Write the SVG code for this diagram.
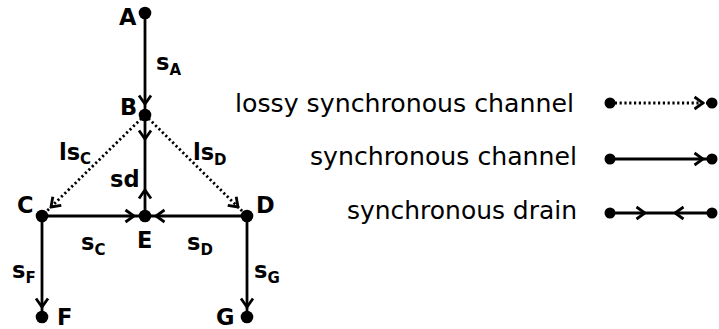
<svg xmlns="http://www.w3.org/2000/svg" width="719" height="329" viewBox="0 0 719 329">
  <style>
    .bg { fill: #ffffff; }
    .dot { fill: #000000; }
    .ch { fill: none; stroke: #000000; stroke-width: 2.8; }
    .lossy { fill: none; stroke: #000000; stroke-width: 2.8; stroke-dasharray: 2.2 2.6; }
    .arr { marker-mid: url(#head); }
    .lbl { font-family: "DejaVu Sans", "Liberation Sans", sans-serif; font-weight: bold; font-size: 22.5px; fill: #000000; }
    .sub { font-size: 15px; }
    .leg { font-family: "DejaVu Sans", "Liberation Sans", sans-serif; font-size: 24.5px; fill: #000000; }
  </style>
  <defs>
    <marker id="head" viewBox="-12 -8 14 16" refX="0" refY="0" markerWidth="14" markerHeight="16" markerUnits="userSpaceOnUse" orient="auto">
      <path d="M-8.5,-6 L0,0 L-8.5,6" fill="none" stroke="#000000" stroke-width="2.8"/>
    </marker>
  </defs>
  <rect class="bg" x="0" y="0" width="719" height="329"/>

  <!-- channels between nodes -->
  <g id="connectors">
    <path class="ch arr" d="M145,13 L145,104 L145,115"/>
    <path class="ch arr" d="M145,115 L145,139 L145,165"/>
    <path class="ch arr" d="M145,216 L145,190 L145,165"/>
    <path class="lossy arr" d="M145,115 L51,207 L42,216"/>
    <path class="lossy arr" d="M145,115 L238,207 L247,216"/>
    <path class="ch arr" d="M42,216 L134,216 L145,216"/>
    <path class="ch arr" d="M247,216 L156,216 L145,216"/>
    <path class="ch arr" d="M42,216 L42,307 L42,317"/>
    <path class="ch arr" d="M247,216 L247,307 L247,317"/>
  </g>

  <!-- edge labels -->
  <g id="edge-labels">
    <text class="lbl" x="156" y="70">s<tspan class="sub" dy="5">A</tspan></text>
    <text class="lbl" x="59" y="160">ls<tspan class="sub" dy="4">C</tspan></text>
    <text class="lbl" x="193" y="160">ls<tspan class="sub" dy="5">D</tspan></text>
    <text class="lbl" x="110" y="187">sd</text>
    <text class="lbl" x="81" y="250">s<tspan class="sub" dy="5">C</tspan></text>
    <text class="lbl" x="187" y="250">s<tspan class="sub" dy="5">D</tspan></text>
    <text class="lbl" x="12" y="278">s<tspan class="sub" dy="5">F</tspan></text>
    <text class="lbl" x="254" y="278">s<tspan class="sub" dy="5">G</tspan></text>
  </g>

  <g id="node-A">
    <circle class="dot" cx="145" cy="13" r="6.3"/>
    <text class="lbl" x="119" y="25">A</text>
  </g>
  <g id="node-B">
    <circle class="dot" cx="145" cy="115" r="6.3"/>
    <text class="lbl" x="120" y="115">B</text>
  </g>
  <g id="node-C">
    <circle class="dot" cx="42" cy="216" r="6.3"/>
    <text class="lbl" x="17" y="213">C</text>
  </g>
  <g id="node-D">
    <circle class="dot" cx="247" cy="216" r="6.3"/>
    <text class="lbl" x="256" y="213">D</text>
  </g>
  <g id="node-E">
    <circle class="dot" cx="145" cy="216" r="6.3"/>
    <text class="lbl" x="137" y="248">E</text>
  </g>
  <g id="node-F">
    <circle class="dot" cx="42" cy="317" r="6.3"/>
    <text class="lbl" x="57" y="325">F</text>
  </g>
  <g id="node-G">
    <circle class="dot" cx="247" cy="317" r="6.3"/>
    <text class="lbl" x="216" y="325">G</text>
  </g>

  <!-- legend -->
  <g id="legend">
    <text class="leg" x="574" y="112" text-anchor="end" textLength="339" lengthAdjust="spacingAndGlyphs">lossy synchronous channel</text>
    <path class="lossy arr" d="M610,103 L703,103 L712,103" stroke-width="2.2"/>
    <circle class="dot" cx="610" cy="103" r="5.5"/>
    <circle class="dot" cx="712" cy="103" r="5.5"/>

    <text class="leg" x="577" y="165" text-anchor="end" textLength="267" lengthAdjust="spacingAndGlyphs">synchronous channel</text>
    <path class="ch arr" d="M610,159 L703,159 L712,159"/>
    <circle class="dot" cx="610" cy="159" r="5.5"/>
    <circle class="dot" cx="712" cy="159" r="5.5"/>

    <text class="leg" x="577" y="219" text-anchor="end" textLength="230" lengthAdjust="spacingAndGlyphs">synchronous drain</text>
    <path class="ch arr" d="M610,213 L645,213 L660,213"/>
    <path class="ch arr" d="M712,213 L675,213 L660,213"/>
    <circle class="dot" cx="610" cy="213" r="5.5"/>
    <circle class="dot" cx="712" cy="213" r="5.5"/>
  </g>
</svg>
